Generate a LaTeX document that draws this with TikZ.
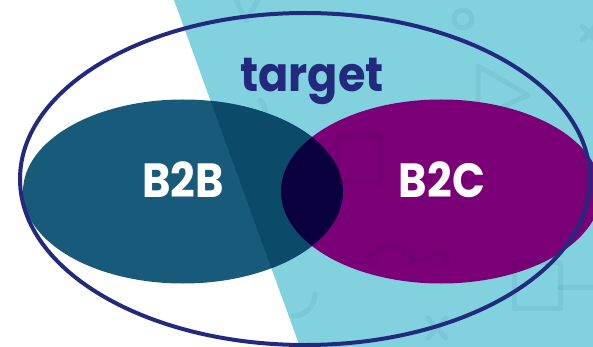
\documentclass[tikz,border=0pt]{standalone}
\usepackage{fontspec}
\setmainfont{Poppins}
\newfontfamily\narrowfont{Poppins}[FakeStretch=0.9]
\newfontfamily\headfont{Poppins}[FakeStretch=0.93]

\definecolor{sky}{HTML}{82D1DF}
\definecolor{navy}{HTML}{232A7E}
\definecolor{bbcol}{HTML}{185A7A}
\definecolor{bbdark}{HTML}{0C4A6A}
\definecolor{bccol}{HTML}{7B0077}
\definecolor{overlap}{HTML}{0B003F}
\definecolor{doodle}{HTML}{EEF4F6}

% the two markets and the light wedge behind them
\def\zoneSky{(174,0) -- (593,0) -- (593,347) -- (300,347) -- cycle}
\def\setBB{(183,191.5) ellipse [x radius=160, y radius=92]}
\def\setBC{(441,191.5) ellipse [x radius=160, y radius=92]}

\begin{document}
\begin{tikzpicture}[x=1pt, y=-1pt,
	icon/.style={draw=doodle, line width=5pt, line cap=round, line join=round, blend mode=multiply},
	setlabel/.style={text=white, font=\narrowfont\bfseries\fontsize{48}{48}\selectfont, anchor=base}]
	\useasboundingbox (0,0) rectangle (593,347);
	\fill[sky] \zoneSky;
	% faint doodles in the wedge
	\begin{scope}
		\clip \zoneSky;
		\draw[icon] (236,0) -- (246,20) -- (258,0);
		\draw[icon] (463,19) circle (9);
		\draw[icon] (478,66) -- (478,118) -- (528,95) -- cycle;
		\draw[icon] (582,26) -- (596,40) (582,40) -- (596,26);
		\draw[icon] (260,100) .. controls (275,115) and (250,130) .. (262,143) .. controls (278,158) and (250,168) .. (260,180);
	\end{scope}
	\fill[bbcol] \setBB;
	\begin{scope}
		\clip \zoneSky;
		\fill[bbdark] \setBB;
	\end{scope}
	\fill[bccol] \setBC;
	\begin{scope}
		\clip \setBB;
		\fill[overlap] \setBC;
	\end{scope}
	% doodles lying over the sets
	\begin{scope}
		\clip \zoneSky;
		\draw[icon] (337,137) rectangle (380,182);
		\draw[icon] (366,262) .. controls (380,240) and (398,240) .. (410,258) .. controls (420,270) and (436,240) .. (447,260);
		\draw[icon] (315,294) arc (0:90:22);
		\draw[icon] (514,262) rectangle (560,308);
		\draw[icon] (560,287) -- (593,287);
		\draw[icon] (428,318) -- (446,338) (428,338) -- (446,318);
	\end{scope}
	\draw[navy, line width=4pt] (305,179) ellipse [x radius=285, y radius=166];
	\node[navy, font=\headfont\bfseries\fontsize{48}{48}\selectfont, anchor=base] (target) at (312,92) {target};
	\node[setlabel] (b2b) at (183,197) {B2B};
	\node[setlabel] (b2c) at (442,197) {B2C};
\end{tikzpicture}
\end{document}
